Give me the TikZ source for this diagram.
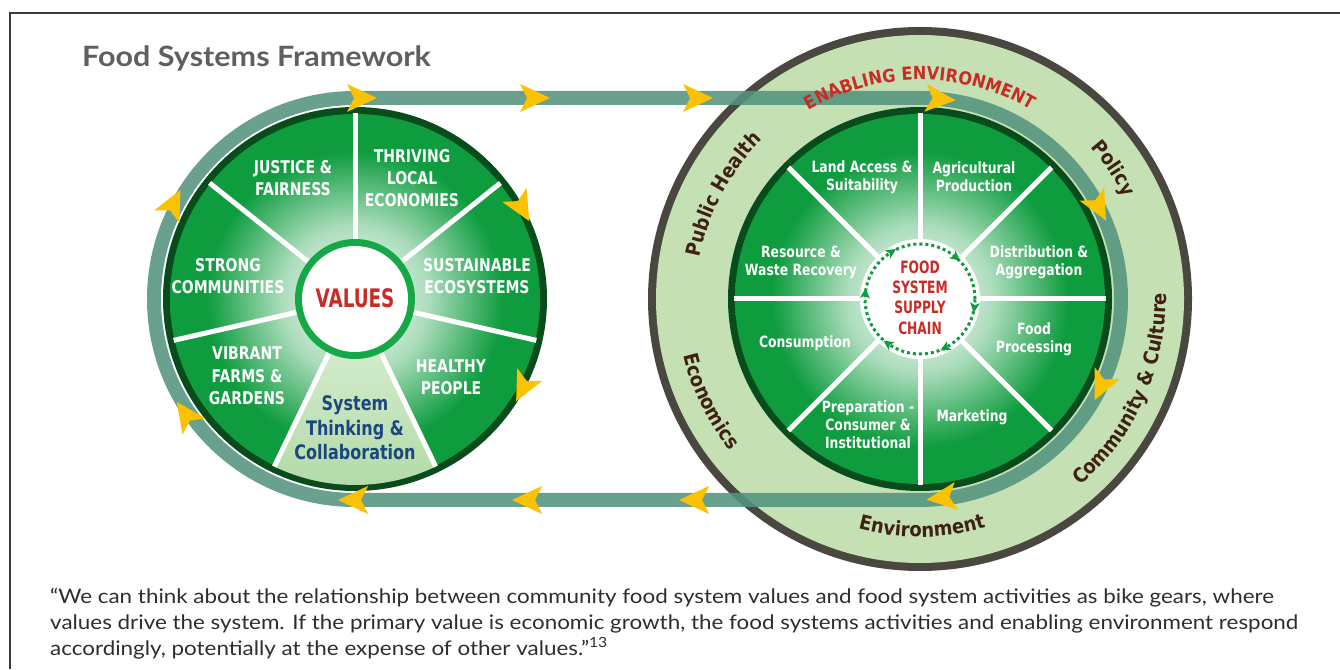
\documentclass[tikz,border=0pt]{standalone}
\usepackage{fontspec}
\setmainfont{Lato}
\newfontfamily\capfont[FakeStretch=1.12]{Lato}
\newfontfamily\titlefont[FakeStretch=1.09]{Lato}
\newfontfamily\wheelfont[FakeStretch=0.8]{DejaVu Sans}
\newfontfamily\hubfont[FakeStretch=0.72]{DejaVu Sans}
\newfontfamily\ringfont[FakeStretch=0.9]{DejaVu Sans}
\usetikzlibrary{decorations.text}

\definecolor{framegray}{RGB}{60,60,60}
\definecolor{titlegray}{RGB}{95,95,95}
\definecolor{captiongray}{RGB}{45,45,45}
\definecolor{bandteal}{RGB}{84,148,126}
\definecolor{discgreen}{RGB}{14,156,62}
\definecolor{hubgreen}{RGB}{22,168,70}
\definecolor{darkgreen}{RGB}{8,76,28}
\definecolor{ringgreen}{RGB}{197,225,180}
\definecolor{ringgray}{RGB}{74,70,64}
\definecolor{ringtext}{RGB}{62,32,20}
\definecolor{valred}{RGB}{200,44,38}
\definecolor{sysblue}{RGB}{28,70,128}
\definecolor{arrowyellow}{RGB}{250,194,0}
\definecolor{paletop}{RGB}{210,235,203}
\definecolor{palebot}{RGB}{178,218,166}
\colorlet{glowgreen}{discgreen!35!white}

\pgfdeclareradialshading{wheelglow}{\pgfpoint{0bp}{0bp}}{color(0bp)=(white); color(10bp)=(glowgreen); color(20bp)=(discgreen); color(50bp)=(discgreen)}

\tikzset{
  title/.style={font=\titlefont\bfseries\fontsize{28}{28}\selectfont, text=titlegray, inner sep=0},
  caption/.style={font=\capfont\fontsize{20}{20}\selectfont, text=captiongray, inner sep=0, anchor=base west},
  band/.style={draw=bandteal, line width=14, draw opacity=0.88},
  spoke/.style={white, line width=5},
  valuetext/.style={text=white, font=\wheelfont\bfseries\fontsize{17.5}{22.3}\selectfont, align=center, inner sep=0},
  chaintext/.style={text=white, font=\wheelfont\bfseries\fontsize{15.5}{18}\selectfont, align=center, inner sep=0},
  hubtext/.style={text=valred, font=\hubfont\bfseries\fontsize{17}{20.3}\selectfont, align=center, inner sep=0},
  yarrow/.pic={\fill[arrowyellow] (18,0) -- (-12,14) -- (-5,0) -- (-12,-14) -- cycle;},
  garrow/.pic={\fill[discgreen] (6,0) -- (-4,5) -- (-1.5,0) -- (-4,-5) -- cycle;},
}

\begin{document}
\begin{tikzpicture}[x=1pt, y=1pt]
  \useasboundingbox (0,0) rectangle (1340,669);

  % Frame and title
  \draw[framegray, line width=1.5] (10,0) -- (10,656) -- (1340,656);
  \node[title, anchor=west] (title) at (82,611) {Food Systems Framework};

  % Gear centres
  \coordinate (V) at (355,370);
  \coordinate (F) at (920,370);

  % Enabling environment ring
  \fill[ringgray] (F) circle (272);
  \fill[ringgreen] (F) circle (264);

  % Chain
  \draw[band] (355,571) -- (920,571) arc[start angle=90, end angle=-90, radius=201]
    -- (355,169) arc[start angle=270, end angle=90, radius=201] -- cycle;

  % Discs
  \foreach \c in {V,F} {
    \fill[darkgreen] (\c) circle (192);
    \shade[shading=wheelglow] (\c) circle (185);
  }

  % Values gear
  \begin{scope}[shift={(V)}]
    \shade[top color=paletop, bottom color=palebot]
      (244.29:58) -- (244.29:186) arc[start angle=244.29, end angle=295.71, radius=186]
      -- (295.71:58) -- cycle;
    \foreach \k in {0,...,6}
      \draw[spoke] ({90+\k*51.4286}:58) -- ({90+\k*51.4286}:186);
    \fill[hubgreen] (0,0) circle (60);
    \fill[white] (0,0) circle (53);
    \node[hubtext, font=\hubfont\bfseries\fontsize{25.5}{26}\selectfont] (values) at (0,1) {VALUES};

    \node[valuetext] (justice) at (-62,121) {JUSTICE \&\\FAIRNESS};
    \node[valuetext] (thriving) at (57,121) {THRIVING\\LOCAL\\ECONOMIES};
    \node[valuetext] (strong) at (-127,23) {STRONG\\COMMUNITIES};
    \node[valuetext] (sustain) at (122,23) {SUSTAINABLE\\ECOSYSTEMS};
    \node[valuetext] (vibrant) at (-108,-77) {VIBRANT\\FARMS \&\\GARDENS};
    \node[valuetext] (healthy) at (96,-78) {HEALTHY\\PEOPLE};
    \node[valuetext, text=sysblue, font=\wheelfont\bfseries\fontsize{20}{24.5}\selectfont] (systhink) at (0,-129) {System\\Thinking \&\\Collaboration};
  \end{scope}

  % Supply chain gear
  \begin{scope}[shift={(F)}]
    \foreach \k in {0,...,7}
      \draw[spoke] ({\k*45}:58) -- ({\k*45}:186);
    \fill[white] (0,0) circle (60);
    \draw[discgreen, line width=3, dash pattern=on 3pt off 3pt] (0,0) circle (55);
    \foreach \a in {175,122,50,-8,-62,-125}
      \path (\a:55) pic[rotate=\a-90] {garrow};
    \node[hubtext] (supply) at (0,1.5) {FOOD\\SYSTEM\\SUPPLY\\CHAIN};

    \node[chaintext] (land) at (-58,122) {Land Access \&\\Suitability};
    \node[chaintext] (agri) at (54,122) {Agricultural\\Production};
    \node[chaintext] (waste) at (-119,37) {Resource \&\\Waste Recovery};
    \node[chaintext] (distrib) at (119,37) {Distribution \&\\Aggregation};
    \node[chaintext] (consume) at (-115,-44) {Consumption};
    \node[chaintext] (process) at (114,-40) {Food\\Processing};
    \node[chaintext] (prep) at (-52,-126) {Preparation -\\Consumer \&\\Institutional};
    \node[chaintext] (market) at (52,-118) {Marketing};

    % Ring labels
    \path[decorate, decoration={text along path, text align=center,
      text={|\ringfont\bfseries\fontsize{18}{18}\selectfont\color{valred}|ENABLING ENVIRONMENT}}]
      (140:219) arc[start angle=140, end angle=40, radius=219];
    \path[decorate, decoration={text along path, text align=center,
      text={|\ringfont\bfseries\fontsize{20}{20}\selectfont\color{ringtext}|Public Health}}]
      (195:224) arc[start angle=195, end angle=109, radius=224];
    \path[decorate, decoration={text along path, text align=center,
      text={|\ringfont\bfseries\fontsize{20}{20}\selectfont\color{ringtext}|Policy}}]
      (64:228) arc[start angle=64, end angle=4, radius=228];
    \path[decorate, decoration={text along path, text align=center,
      text={|\ringfont\bfseries\fontsize{20}{20}\selectfont\color{ringtext}|Community {\&} Culture}}]
      (-84:246) arc[start angle=-84, end angle=36, radius=246];
    \path[decorate, decoration={text along path, text align=center,
      text={|\ringfont\bfseries\fontsize{20}{20}\selectfont\color{ringtext}|Economics}}]
      (170:243) arc[start angle=170, end angle=242, radius=243];
    \path[decorate, decoration={text along path, text align=center,
      text={|\ringfont\bfseries\fontsize{20}{20}\selectfont\color{ringtext}|Environment}}]
      (235:238) arc[start angle=235, end angle=306, radius=238];
  \end{scope}

  % Arrows on the chain
  \foreach \x in {359,532,695}
    \path (\x,571) pic {yarrow};
  \foreach \x in {356,530,697}
    \path (\x,169) pic[rotate=180] {yarrow};
  \path (F) ++(85:201) pic[rotate=-5] {yarrow};
  \path (F) ++(28:201) pic[rotate=-62] {yarrow};
  \path (F) ++(-25:201) pic[rotate=-115] {yarrow};
  \path (F) ++(-83:200) pic[rotate=-173] {yarrow};
  \path (V) ++(215:205) pic[rotate=125] {yarrow};
  \path (V) ++(153:205) pic[rotate=63] {yarrow};
  \path (V) ++(29.5:190) pic[rotate=-60.5] {yarrow};
  \path (V) ++(-27:190) pic[rotate=-117] {yarrow};

  % Caption
  \node[caption] (cap1) at (50,66) {“We can think about the relationship between community food system values and food system activities as bike gears, where};
  \node[caption] (cap2) at (50,40) {values drive the system. If the primary value is economic growth, the food systems activities and enabling environment respond};
  \node[caption] (cap3) at (50,14) {accordingly, potentially at the expense of other values.”\textsuperscript{13}};
\end{tikzpicture}
\end{document}
